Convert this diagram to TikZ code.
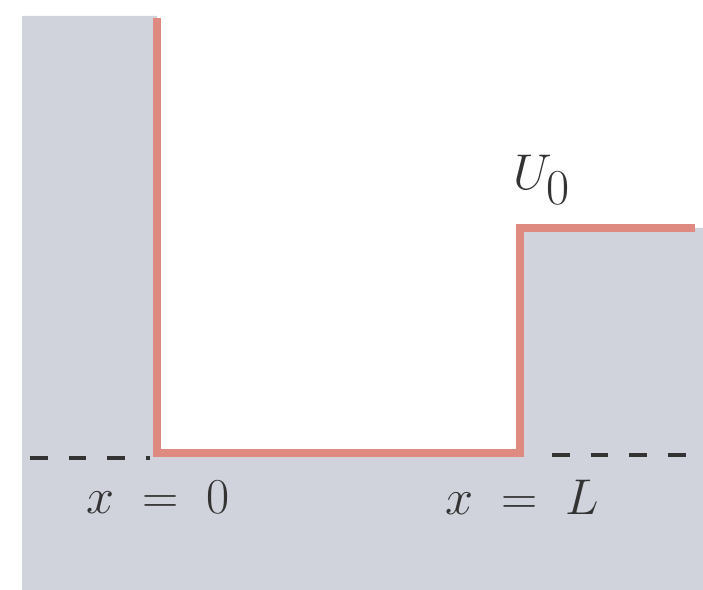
\documentclass[tikz,border=0pt]{standalone}
\usepackage{amsmath}
\usepackage{tikz}
\definecolor{mywallgray}{RGB}{208,210,220}
\definecolor{mywellred}{RGB}{222,138,128}

\begin{document}
\begin{tikzpicture}[x=0.02cm, y=-0.02cm] % one unit is one pixel of the picture
    % Positions of the well
    \pgfmathsetmacro{\wallLeft}{22}
    \pgfmathsetmacro{\xZero}{157}
    \pgfmathsetmacro{\xL}{520}
    \pgfmathsetmacro{\floorY}{453}
    \pgfmathsetmacro{\stepY}{228}

    \useasboundingbox (0,0) rectangle (703,590);

    % Shaded walls
    \fill[mywallgray] (\wallLeft,16) -- (\xZero,16) -- (\xZero,\floorY) -- (\xL,\floorY)
        -- (\xL,\stepY) -- (703,\stepY) -- (703,590) -- (\wallLeft,590) -- cycle;

    % Potential
    \draw[mywellred, line width=4pt, line join=miter] (\xZero,18) -- (\xZero,\floorY)
        -- (\xL,\floorY) -- (\xL,\stepY) -- (695,\stepY);

    % Dashed level lines
    \draw[black!80, line width=1.8pt, dash pattern=on 10pt off 12pt] (30,458) -- (150,458);
    \draw[black!80, line width=1.8pt, dash pattern=on 10pt off 12pt] (552,455) -- (703,455);

    % Labels
    \node[font=\fontsize{36}{42}\selectfont, scale=1.15, text=black!80] (xzero) at (158,497) {$x\;=\;0$};
    \node[font=\fontsize{36}{42}\selectfont, scale=1.15, text=black!80] (xell) at (522,497) {$x\;=\;L$};
    \node[font=\fontsize{36}{42}\selectfont, scale=1.15, text=black!80] (uzero) at (542,180) {$U_0$};
\end{tikzpicture}
\end{document}
